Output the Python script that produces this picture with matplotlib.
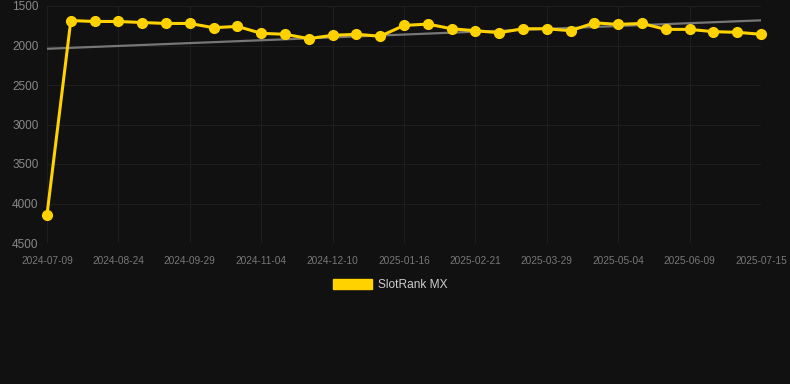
import numpy as np
import matplotlib.pyplot as plt
from matplotlib.patches import Patch

plt.rcParams['font.family'] = ['Liberation Sans', 'DejaVu Sans']

# rank values (lower is better), one point per sample
rank = [4140, 1684, 1696, 1696, 1709, 1721, 1721, 1775, 1758, 1846,
        1858, 1913, 1871, 1858, 1883, 1746, 1729, 1788, 1813, 1838,
        1788, 1788, 1813, 1713, 1733, 1721, 1796, 1796, 1825, 1833,
        1858]
tick_labels = ['2024-07-09', '2024-08-24', '2024-09-29', '2024-11-04',
               '2024-12-10', '2025-01-16', '2025-02-21', '2025-03-29',
               '2025-05-04', '2025-06-09', '2025-07-15']
series_name = 'SlotRank MX'

bg = '#111111'
yellow = '#FFD200'

x = np.arange(len(rank))
coef = np.polyfit(x, rank, 1)
trend = np.polyval(coef, x)

fig = plt.figure(figsize=(7.9, 3.84), dpi=100, facecolor=bg)
ax = fig.add_axes([47/790, 1-243/384, 714/790, 237/384])
ax.set_facecolor(bg)

ax.plot(x, trend, color='#777777', lw=1.6, zorder=2)
ax.plot(x, rank, color=yellow, lw=2.2, marker='o', ms=7, zorder=3, clip_on=False)

ax.set_xlim(0, len(rank)-1)
ax.set_ylim(4500, 1500)
ax.set_yticks([1500, 2000, 2500, 3000, 3500, 4000, 4500])
ax.set_xticks(x[::3])
ax.set_xticklabels(tick_labels)

ax.grid(True, color='#1e1e1e', lw=0.8)
for s in ax.spines.values():
    s.set_visible(False)
ax.tick_params(axis='y', colors='#888888', labelsize=8.5, length=0, pad=6)
ax.tick_params(axis='x', colors='#777777', labelsize=7.3, length=0, pad=9)

fig.legend(handles=[Patch(color=yellow, label=series_name)], loc='center',
           bbox_to_anchor=(390/790, 1-285/384), frameon=False,
           handlelength=3.3, handleheight=0.9, handletextpad=0.5,
           labelcolor='#cccccc', fontsize=8.6)

fig.savefig('out.png', dpi=100, facecolor=bg)
